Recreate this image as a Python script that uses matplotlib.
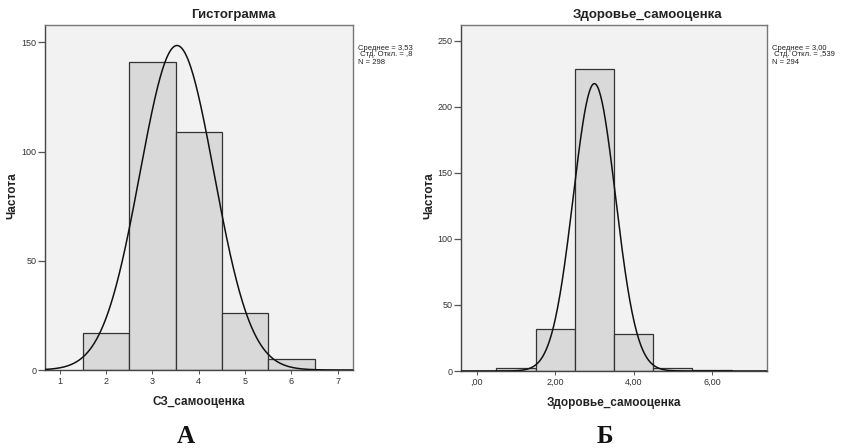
import matplotlib.pyplot as plt
import numpy as np

# panel A: СЗ_самооценка
a_bins = [2, 3, 4, 5, 6]
a_counts = [17, 141, 109, 26, 5]
a_mean, a_sd, a_n = 3.53, 0.80, 298
a_xticks = [1, 2, 3, 4, 5, 6, 7]
a_yticks = [0, 50, 100, 150]

# panel Б: Здоровье_самооценка
b_bins = [1, 2, 3, 4, 5, 6]
b_counts = [2, 32, 229, 28, 2, 1]
b_mean, b_sd, b_n = 3.00, 0.539, 294
b_xticks = [0, 2, 4, 6]
b_xticklabels = [",00", "2,00", "4,00", "6,00"]
b_yticks = [0, 50, 100, 150, 200, 250]

W, H = 843, 448
BG = "#f2f2f2"
BAR = "#d9d9d9"
EDGE = "#333333"
SANS = "Liberation Sans"


def px(x0, y0, x1, y1):
    # pixel box -> figure fraction
    return [x0 / W, 1 - y1 / H, (x1 - x0) / W, (y1 - y0) / H]


def panel(fig, box, bins, counts, mean, sd, n, xlim, ylim, xticks, xticklabels,
          yticks, title, xlabel, stats, title_x, letter, letter_x, sd_text, ylab_x):
    ax = fig.add_axes(px(*box))
    ax.set_facecolor(BG)
    ax.bar(bins, counts, width=1.0, color=BAR, edgecolor=EDGE, linewidth=0.9, zorder=2)
    x = np.linspace(xlim[0], xlim[1], 400)
    y = n * 1.0 / (sd * np.sqrt(2 * np.pi)) * np.exp(-0.5 * ((x - mean) / sd) ** 2)
    ax.plot(x, y, color="#111111", lw=1.1, zorder=3)
    ax.set_xlim(xlim)
    ax.set_ylim(ylim)
    ax.set_xticks(xticks)
    ax.set_xticklabels(xticklabels, fontsize=6.5, family=SANS, color="#333333")
    ax.set_yticks(yticks)
    ax.set_yticklabels([str(v) for v in yticks], fontsize=6.5, family=SANS, color="#333333")
    ax.tick_params(axis="y", length=5, width=0.9, color="#555555", pad=1)
    ax.tick_params(axis="x", length=3, width=0.7, color="#555555", pad=2)
    for s in ax.spines.values():
        s.set_color("#777777")
        s.set_linewidth(1.0)
    ax.spines["left"].set_color("#444444")
    ax.spines["bottom"].set_color("#444444")
    ax.set_xlabel(xlabel, fontsize=8.5, fontweight="bold", family=SANS, color="#222222", labelpad=7)
    fig.text(ylab_x / W, 1 - 196 / H, "Частота", rotation=90, ha="center", va="center",
             fontsize=8.5, fontweight="bold", family=SANS, color="#222222")
    fig.text(title_x / W, 1 - 15 / H, title, ha="center", va="center", fontsize=9.5,
             fontweight="bold", family=SANS, color="#222222")
    tx = (box[2] + 5) / W
    lines = [f"Среднее = {stats}", f" Стд. Откл. = {sd_text}", f"N = {n}"]
    for i, t in enumerate(lines):
        fig.text(tx, 1 - (48 + i * 7) / H, t, ha="left", va="center", fontsize=5.5,
                 family=SANS, color="#222222")
    fig.text(letter_x / W, 1 - 436 / H, letter, ha="center", va="center", fontsize=18,
             fontweight="bold", family="Liberation Serif", color="#111111")
    return ax


fig = plt.figure(figsize=(W / 100, H / 100), dpi=100)

panel(fig, (45, 25, 353, 370), a_bins, a_counts, a_mean, a_sd, a_n,
      (0.68, 7.33), (0, 158), a_xticks, [str(v) for v in a_xticks], a_yticks,
      "Гистограмма", "СЗ_самооценка", "3,53", 233, "А", 186, ",8", 12)
panel(fig, (461, 25, 767, 371), b_bins, b_counts, b_mean, b_sd, b_n,
      (-0.4, 7.4), (0, 262), b_xticks, b_xticklabels, b_yticks,
      "Здоровье_самооценка", "Здоровье_самооценка", "3,00", 648, "Б", 605, ",539", 429)

fig.savefig("out.png", dpi=100, facecolor="white")
